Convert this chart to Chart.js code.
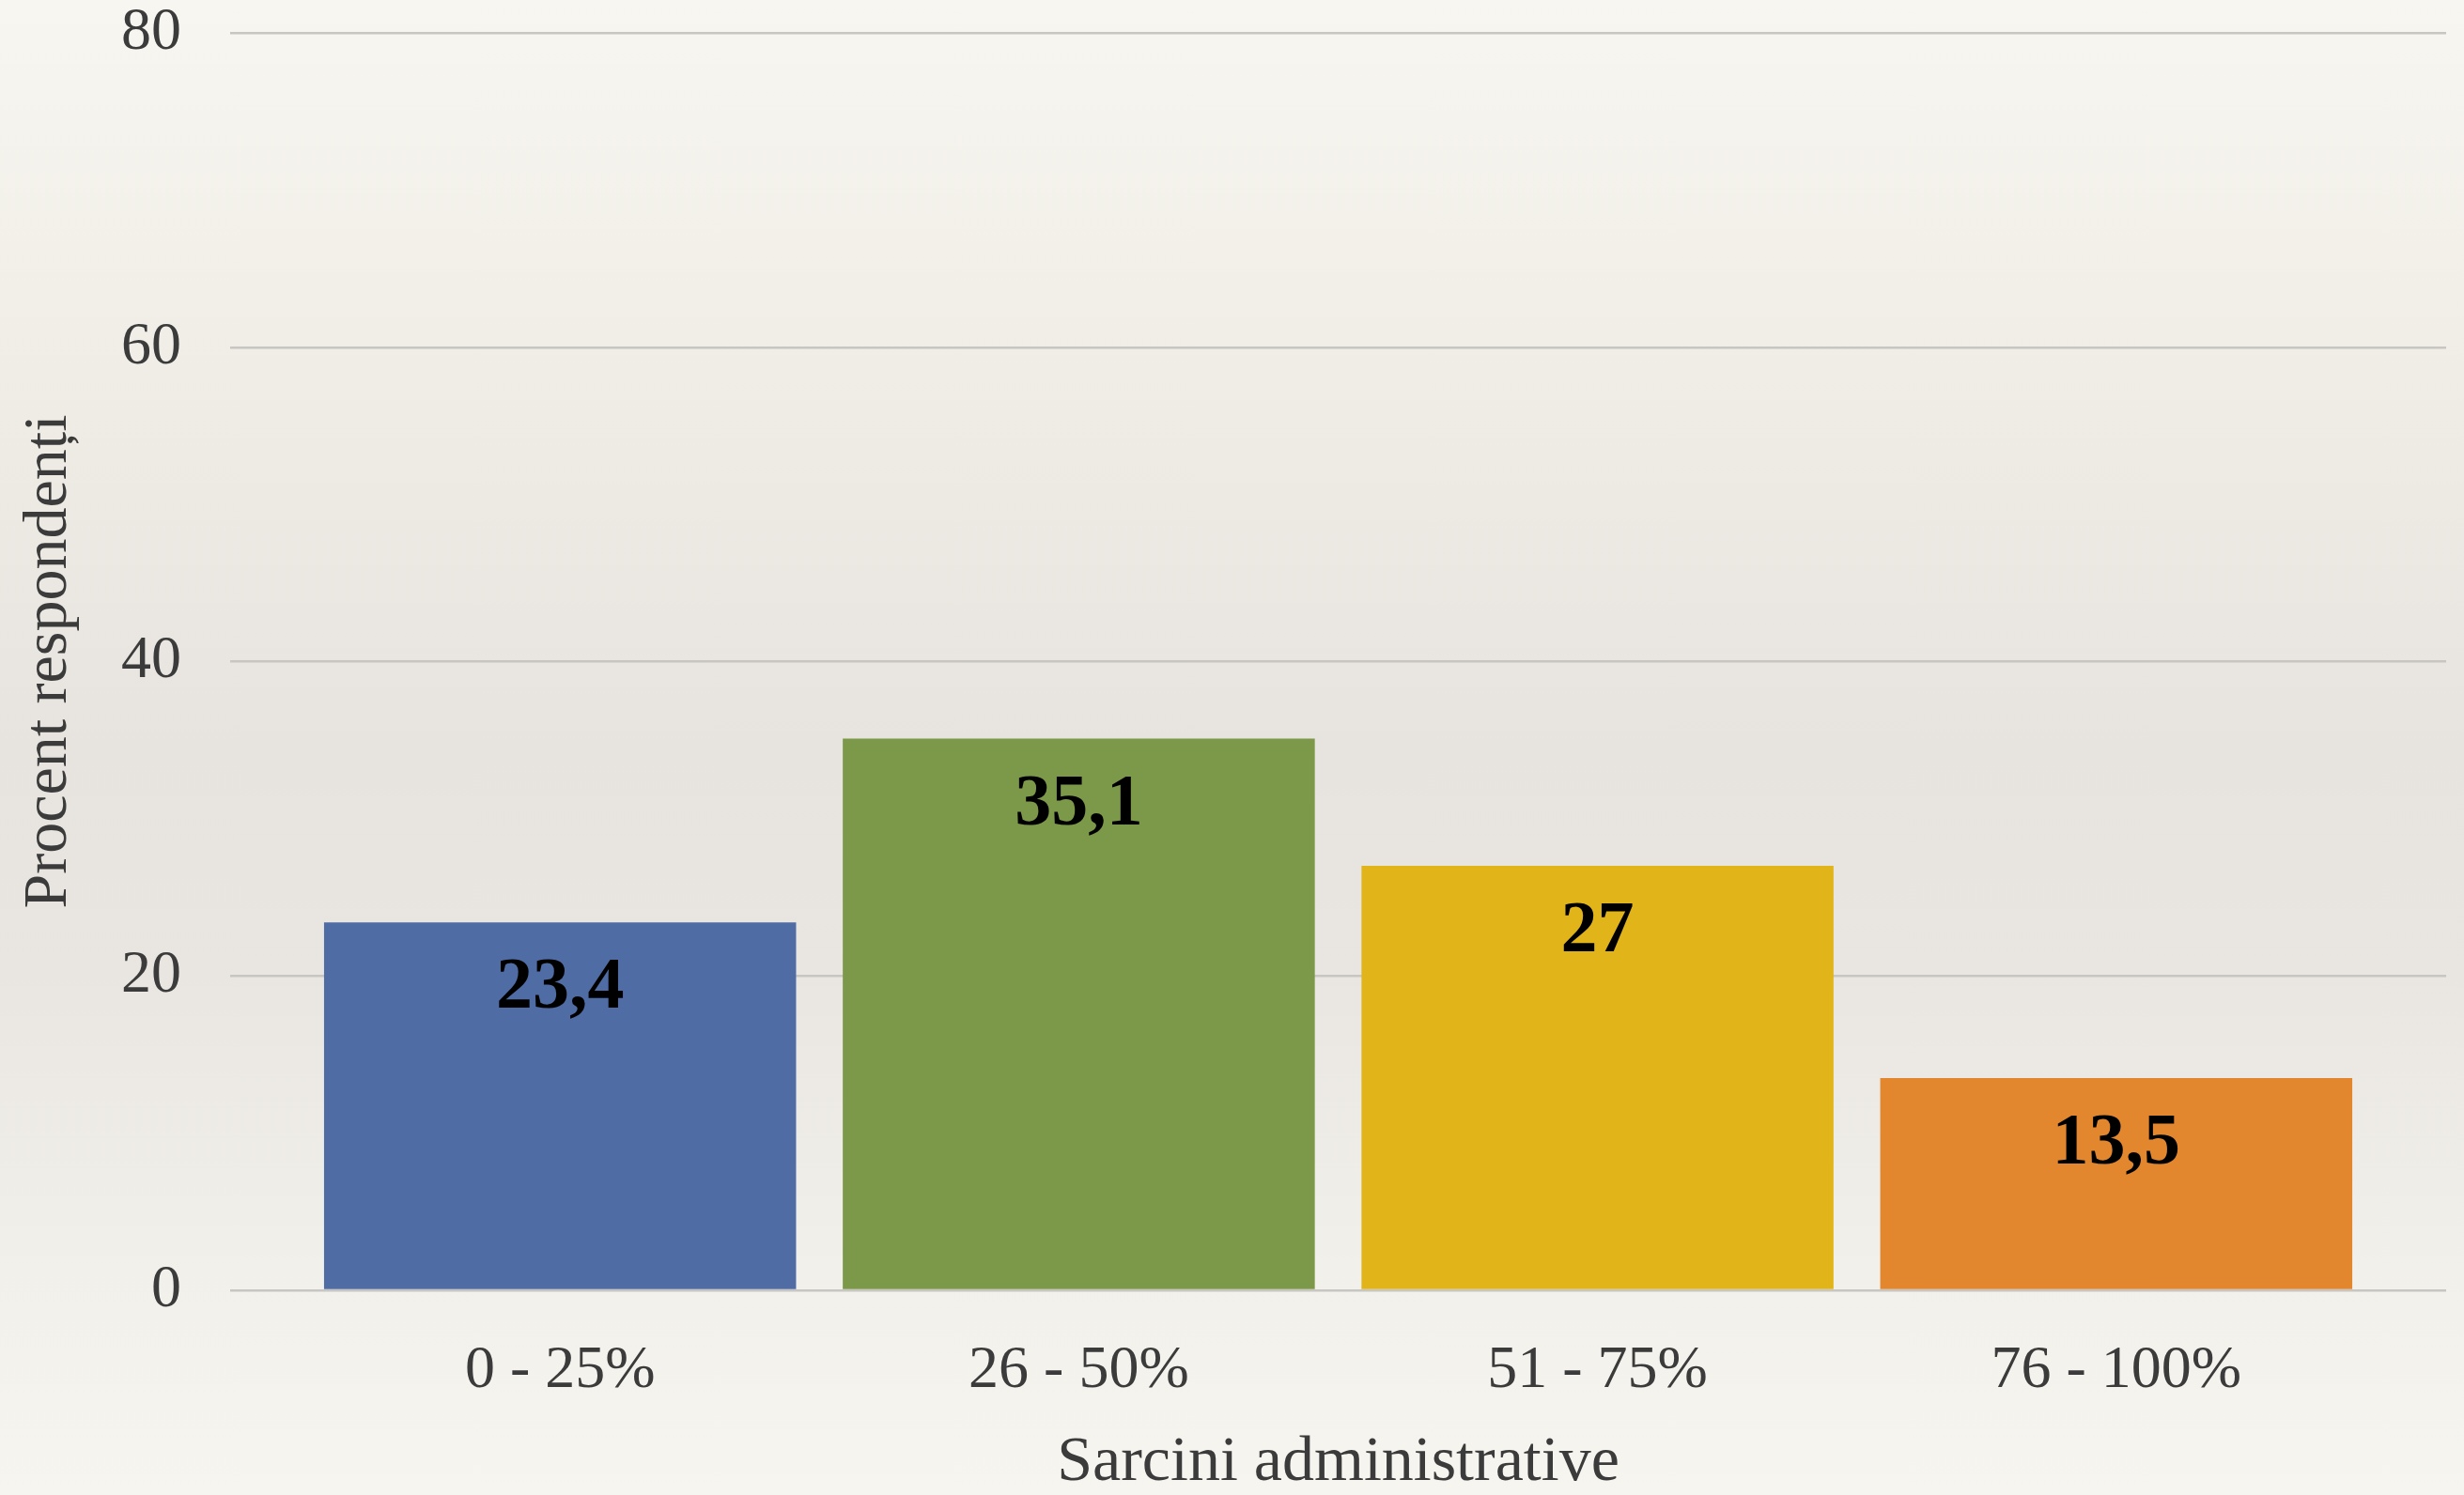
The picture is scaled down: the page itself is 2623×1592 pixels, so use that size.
<!DOCTYPE html>
<html>
<head>
<meta charset="utf-8">
<script src="https://cdn.jsdelivr.net/npm/chart.js@4/dist/chart.umd.min.js"></script>
<style>
  html, body {
    margin: 0;
    padding: 0;
  }
  body {
    width: 2623px;
    height: 1592px;
    background: linear-gradient(to bottom, #f8f6f0 0%, #f0ede7 25%, #e7e3de 50%, #e9e6e1 65%, #f2f0eb 85%, #f7f5f0 100%);
  }
  #wrap {
    position: relative;
    width: 2623px;
    height: 1592px;
  }
</style>
</head>
<body>
<div id="wrap">
  <canvas id="myChart"></canvas>
</div>
<script>
// Données du graphique
const categories = ["0 - 25%", "26 - 50%", "51 - 75%", "76 - 100%"];
const valeurs = [23.4, 35.1, 27, 13.5];
const couleurs = ["#4f6ca4", "#7c9849", "#e1b519", "#e3872f"];
const yTicks = [0, 20, 40, 60, 80];

const police = "'Liberation Serif', 'DejaVu Serif', serif";

// Étiquettes de valeur dans le haut des barres
const etiquettes = {
  id: "etiquettes",
  afterDatasetsDraw(chart) {
    const ctx = chart.ctx;
    const meta = chart.getDatasetMeta(0);
    ctx.save();
    ctx.font = "bold 78px " + police;
    ctx.fillStyle = "#000000";
    ctx.textAlign = "center";
    ctx.textBaseline = "alphabetic";
    meta.data.forEach((bar, i) => {
      const txt = String(valeurs[i]).replace(".", ",");
      ctx.fillText(txt, bar.x, bar.y + 91);
    });
    ctx.restore();
  },
};

const ctx = document.getElementById("myChart");
const chart = new Chart(ctx, {
  type: "bar",
  data: {
    datasets: [
      {
        data: valeurs.map((v, i) => ({ x: i, y: v })),
        backgroundColor: couleurs,
        borderWidth: 0,
        categoryPercentage: 1,
        barPercentage: 0.91,
      },
    ],
  },
  options: {
    responsive: true,
    maintainAspectRatio: false,
    animation: false,
    layout: { padding: { top: 35, right: 19, left: 0, bottom: 0 } },
    plugins: {
      legend: { display: false },
      tooltip: { enabled: false },
    },
    scales: {
      x: {
        type: "linear",
        offset: false,
        min: -0.636,
        max: 3.636,
        grid: { display: false },
        border: { display: false },
        afterFit: (scale) => {
          scale.height = 218;
        },
        ticks: {
          stepSize: 1,
          includeBounds: false,
          maxRotation: 0,
          padding: 40,
          color: "#3b3b3b",
          font: { family: police, size: 64 },
          callback: (value) => (Number.isInteger(value) ? categories[value] : ""),
        },
        title: {
          display: true,
          text: "Sarcini administrative",
          color: "#3b3b3b",
          font: { family: police, size: 68, lineHeight: 1 },
          padding: { top: 0, bottom: 0 },
        },
      },
      y: {
        min: 0,
        max: 80,
        afterBuildTicks: (scale) => {
          scale.ticks = yTicks.map((v) => ({ value: v }));
        },
        afterFit: (scale) => {
          scale.width = 245;
          // le padding des ticks ne doit pas pousser la zone du graphique
          scale.paddingTop = 0;
          scale.paddingBottom = 0;
        },
        grid: {
          color: "#c8c6c2",
          lineWidth: 2.5,
          drawTicks: false,
        },
        border: { display: false },
        ticks: {
          padding: 52,
          color: "#3b3b3b",
          font: { family: police, size: 64 },
        },
        title: {
          display: true,
          text: "Procent respondenți",
          color: "#3b3b3b",
          font: { family: police, size: 66, lineHeight: 1 },
          padding: { top: 20, bottom: 0 },
        },
      },
    },
  },
  plugins: [etiquettes],
});
</script>
</body>
</html>
